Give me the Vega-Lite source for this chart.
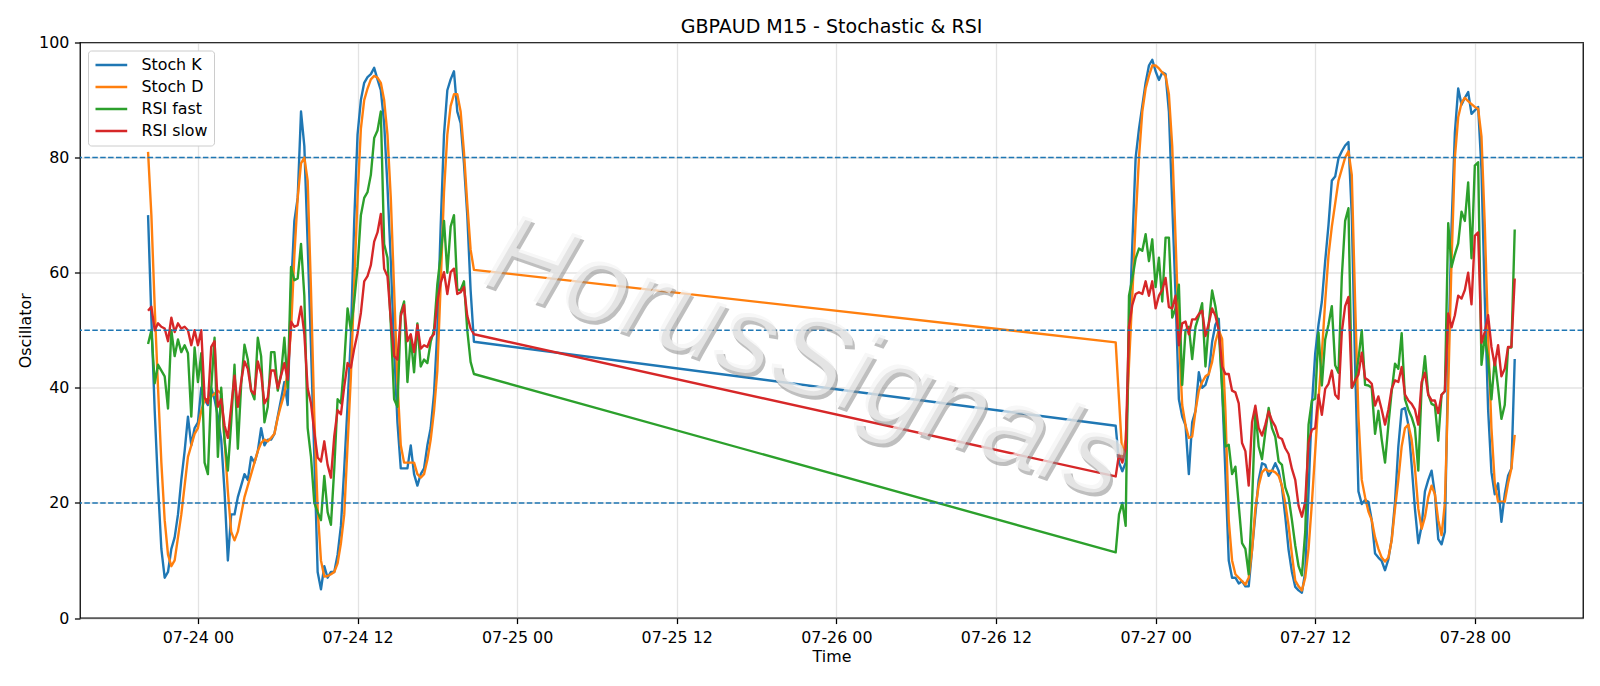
{
"$schema": "https://vega.github.io/schema/vega-lite/v6.json",
"width": 1503, "height": 575.5,
"autosize": {"type": "none"},
"padding": {"left": 80, "top": 42.5, "right": 17, "bottom": 68},
"background": "white",
"config": {
 "font": "DejaVu Sans",
 "view": {"stroke": "black", "strokeWidth": 1.27},
 "axis": {"labelFont": "DejaVu Sans", "labelFontSize": 15.87, "labelColor": "black", "titleFont": "DejaVu Sans", "titleFontSize": 15.87, "titleFontWeight": "normal", "titleColor": "black", "tickColor": "black", "tickWidth": 1.27, "tickSize": 5.56, "labelPadding": 5.56, "domain": false, "grid": true, "gridColor": "#b0b0b0", "gridOpacity": 0.35, "gridWidth": 1.27}
},
"title": {"text": "GBPAUD M15 - Stochastic & RSI", "font": "DejaVu Sans", "fontSize": 19.05, "fontWeight": "normal", "color": "black", "anchor": "middle", "frame": "group", "offset": -3},
"layer": [
{
 "data": {"values": [
{"t":"2025-07-23T20:15","k":70,"d":81,"f":47.6,"s":53.4},
{"t":"2025-07-23T20:30","k":52,"d":70,"f":50,"s":54.1},
{"t":"2025-07-23T20:45","k":36,"d":54,"f":40.8,"s":50},
{"t":"2025-07-23T21:00","k":23,"d":40,"f":44,"s":51.2},
{"t":"2025-07-23T21:15","k":12,"d":27,"f":43,"s":50.6},
{"t":"2025-07-23T21:30","k":7,"d":17,"f":42,"s":50.3},
{"t":"2025-07-23T21:45","k":8,"d":11,"f":36.4,"s":48.1},
{"t":"2025-07-23T22:00","k":12,"d":9,"f":50,"s":52.2},
{"t":"2025-07-23T22:15","k":14,"d":10,"f":45.5,"s":49.7},
{"t":"2025-07-23T22:30","k":18,"d":14,"f":48.4,"s":51.2},
{"t":"2025-07-23T22:45","k":24,"d":18,"f":46.2,"s":50.3},
{"t":"2025-07-23T23:00","k":29,"d":23,"f":47.4,"s":50.6},
{"t":"2025-07-23T23:15","k":35,"d":28,"f":46,"s":50},
{"t":"2025-07-23T23:30","k":30,"d":30,"f":35,"s":47.4},
{"t":"2025-07-23T23:45","k":33,"d":32,"f":47,"s":50},
{"t":"2025-07-24T00:00","k":34,"d":33,"f":41,"s":47.4},
{"t":"2025-07-24T00:15","k":40,"d":36,"f":46,"s":50},
{"t":"2025-07-24T00:30","k":38,"d":38,"f":27,"s":38.3},
{"t":"2025-07-24T00:45","k":37,"d":38,"f":25,"s":37.3},
{"t":"2025-07-24T01:00","k":40,"d":38.5,"f":40,"s":47.1},
{"t":"2025-07-24T01:15","k":38,"d":39,"f":48.7,"s":48.1},
{"t":"2025-07-24T01:30","k":35,"d":39.5,"f":28,"s":36.7},
{"t":"2025-07-24T01:45","k":31,"d":39,"f":40,"s":38},
{"t":"2025-07-24T02:00","k":22,"d":31,"f":31,"s":33.5},
{"t":"2025-07-24T02:15","k":10,"d":22,"f":25.6,"s":31.3},
{"t":"2025-07-24T02:30","k":18,"d":15,"f":34,"s":36.7},
{"t":"2025-07-24T02:45","k":18,"d":13.5,"f":44,"s":42.1},
{"t":"2025-07-24T03:00","k":21,"d":15,"f":29.4,"s":36.7},
{"t":"2025-07-24T03:15","k":23,"d":18,"f":40.5,"s":41.1},
{"t":"2025-07-24T03:30","k":25,"d":21,"f":47.5,"s":44.6},
{"t":"2025-07-24T03:45","k":24,"d":23,"f":44.9,"s":43.3},
{"t":"2025-07-24T04:00","k":28,"d":25,"f":39.5,"s":39.5},
{"t":"2025-07-24T04:15","k":27,"d":27,"f":38,"s":38.9},
{"t":"2025-07-24T04:30","k":29,"d":29,"f":48.7,"s":44.6},
{"t":"2025-07-24T04:45","k":33,"d":30.4,"f":45.5,"s":42.4},
{"t":"2025-07-24T05:00","k":30,"d":31,"f":34,"s":37.3},
{"t":"2025-07-24T05:15","k":31,"d":30.7,"f":36.7,"s":38.3},
{"t":"2025-07-24T05:30","k":31,"d":31.3,"f":46.2,"s":43},
{"t":"2025-07-24T05:45","k":32,"d":32,"f":46.2,"s":43},
{"t":"2025-07-24T06:00","k":35,"d":34.8,"f":39.5,"s":39.9},
{"t":"2025-07-24T06:15","k":38,"d":37,"f":42.4,"s":42.1},
{"t":"2025-07-24T06:30","k":41,"d":39,"f":48.7,"s":44.3},
{"t":"2025-07-24T06:45","k":37,"d":43,"f":40,"s":41.4},
{"t":"2025-07-24T07:00","k":57,"d":50,"f":61,"s":51.5},
{"t":"2025-07-24T07:15","k":69,"d":63,"f":58.7,"s":50.6},
{"t":"2025-07-24T07:30","k":73,"d":73,"f":59,"s":50.9},
{"t":"2025-07-24T07:45","k":88,"d":79,"f":65,"s":54.1},
{"t":"2025-07-24T08:00","k":82,"d":80,"f":56,"s":49.3},
{"t":"2025-07-24T08:15","k":65,"d":76,"f":33,"s":39.9},
{"t":"2025-07-24T08:30","k":47,"d":57,"f":28,"s":37.3},
{"t":"2025-07-24T08:45","k":28,"d":35,"f":20,"s":32.3},
{"t":"2025-07-24T09:00","k":8,"d":19,"f":18.4,"s":27.9},
{"t":"2025-07-24T09:15","k":5,"d":10,"f":17,"s":27.2},
{"t":"2025-07-24T09:30","k":9,"d":7.2,"f":24.7,"s":30.7},
{"t":"2025-07-24T09:45","k":7,"d":7.3,"f":18.4,"s":26.6},
{"t":"2025-07-24T10:00","k":8,"d":7.6,"f":16.2,"s":24.4},
{"t":"2025-07-24T10:15","k":8,"d":8,"f":26,"s":31.6},
{"t":"2025-07-24T10:30","k":11,"d":9.5,"f":38,"s":36.1},
{"t":"2025-07-24T10:45","k":16,"d":13,"f":37.3,"s":35.4},
{"t":"2025-07-24T11:00","k":26,"d":18,"f":44.3,"s":40.2},
{"t":"2025-07-24T11:15","k":37,"d":30,"f":53.8,"s":44.3},
{"t":"2025-07-24T11:30","k":49,"d":42,"f":50,"s":43.5},
{"t":"2025-07-24T11:45","k":69,"d":58,"f":55,"s":46.8},
{"t":"2025-07-24T12:00","k":84,"d":73,"f":61,"s":49.5},
{"t":"2025-07-24T12:15","k":90,"d":85,"f":70,"s":53},
{"t":"2025-07-24T12:30","k":93,"d":90,"f":73,"s":58.5},
{"t":"2025-07-24T12:45","k":94,"d":92,"f":74,"s":59.4},
{"t":"2025-07-24T13:00","k":94.5,"d":93.6,"f":77,"s":61.3},
{"t":"2025-07-24T13:15","k":95.6,"d":94.2,"f":83.4,"s":65.4},
{"t":"2025-07-24T13:30","k":93.6,"d":93.9,"f":84.7,"s":67},
{"t":"2025-07-24T13:45","k":91.7,"d":93,"f":88,"s":70.2},
{"t":"2025-07-24T14:00","k":86,"d":90,"f":65,"s":60.7},
{"t":"2025-07-24T14:15","k":75,"d":84,"f":62.6,"s":59.4},
{"t":"2025-07-24T14:30","k":62,"d":73,"f":51,"s":51.9},
{"t":"2025-07-24T14:45","k":47,"d":57,"f":38,"s":45.5},
{"t":"2025-07-24T15:00","k":34,"d":41,"f":36.7,"s":44.9},
{"t":"2025-07-24T15:15","k":26,"d":30,"f":53,"s":52.5},
{"t":"2025-07-24T15:30","k":26,"d":27,"f":55,"s":54.4},
{"t":"2025-07-24T15:45","k":26,"d":27,"f":41,"s":48.1},
{"t":"2025-07-24T16:00","k":30,"d":27,"f":48.7,"s":49.3},
{"t":"2025-07-24T16:15","k":25,"d":27,"f":42.7,"s":46.2},
{"t":"2025-07-24T16:30","k":23,"d":25,"f":51.2,"s":50.9},
{"t":"2025-07-24T16:45","k":25,"d":24.4,"f":43.7,"s":46.8},
{"t":"2025-07-24T17:00","k":26,"d":25,"f":44.9,"s":47.4},
{"t":"2025-07-24T17:15","k":30,"d":27.5,"f":44.3,"s":47.1},
{"t":"2025-07-24T17:30","k":33,"d":31,"f":48,"s":48.7},
{"t":"2025-07-24T17:45","k":39,"d":36,"f":50,"s":49.3},
{"t":"2025-07-24T18:00","k":50,"d":43,"f":58,"s":55},
{"t":"2025-07-24T18:15","k":68,"d":58,"f":63,"s":58.2},
{"t":"2025-07-24T18:30","k":84,"d":74,"f":69,"s":60.1},
{"t":"2025-07-24T18:45","k":91.7,"d":84,"f":60,"s":56.3},
{"t":"2025-07-24T19:00","k":93.6,"d":89,"f":68,"s":60.1},
{"t":"2025-07-24T19:15","k":95,"d":91,"f":70,"s":60.7},
{"t":"2025-07-24T19:30","k":88,"d":91,"f":57,"s":56.3},
{"t":"2025-07-24T19:45","k":86,"d":88,"f":57,"s":56.6},
{"t":"2025-07-24T20:00","k":79,"d":81,"f":58.5,"s":57.5},
{"t":"2025-07-24T20:15","k":70,"d":72,"f":50,"s":52.5},
{"t":"2025-07-24T20:30","k":57,"d":64,"f":44.5,"s":50.3},
{"t":"2025-07-24T20:45","k":48,"d":60.5,"f":42.4,"s":49.3},
{"t":"2025-07-26T21:00","k":33.4,"d":47.9,"f":11.4,"s":24.6},
{"t":"2025-07-26T21:15","k":27,"d":38,"f":18,"s":28.5},
{"t":"2025-07-26T21:30","k":25.5,"d":28,"f":20,"s":27},
{"t":"2025-07-26T21:45","k":27,"d":31,"f":16,"s":29.5},
{"t":"2025-07-26T22:00","k":48,"d":44,"f":56,"s":50.6},
{"t":"2025-07-26T22:15","k":65,"d":56,"f":59,"s":54.4},
{"t":"2025-07-26T22:30","k":80,"d":69,"f":62.5,"s":56.3},
{"t":"2025-07-26T22:45","k":85,"d":80,"f":64.2,"s":56.6},
{"t":"2025-07-26T23:00","k":89,"d":88,"f":63.8,"s":56.3},
{"t":"2025-07-26T23:15","k":93,"d":92,"f":66.7,"s":58.5},
{"t":"2025-07-26T23:30","k":96,"d":94.2,"f":62,"s":56},
{"t":"2025-07-26T23:45","k":97,"d":96,"f":65.8,"s":58.5},
{"t":"2025-07-27T00:00","k":95,"d":96,"f":57.5,"s":53.8},
{"t":"2025-07-27T00:15","k":93.5,"d":95.5,"f":62.6,"s":56},
{"t":"2025-07-27T00:30","k":94.8,"d":94.8,"f":55,"s":57},
{"t":"2025-07-27T00:45","k":94.5,"d":94.2,"f":66.1,"s":59.1},
{"t":"2025-07-27T01:00","k":88,"d":91,"f":66.1,"s":54},
{"t":"2025-07-27T01:15","k":72,"d":82,"f":52.2,"s":53.8},
{"t":"2025-07-27T01:30","k":56,"d":66,"f":53.8,"s":56},
{"t":"2025-07-27T01:45","k":38,"d":49,"f":57.9,"s":47.4},
{"t":"2025-07-27T02:00","k":35,"d":37,"f":40.5,"s":51.2},
{"t":"2025-07-27T02:15","k":33.5,"d":33.5,"f":50,"s":51.5},
{"t":"2025-07-27T02:30","k":25,"d":31.3,"f":50.6,"s":49.3},
{"t":"2025-07-27T02:45","k":34,"d":31.5,"f":45,"s":51.9},
{"t":"2025-07-27T03:00","k":36,"d":36,"f":50.6,"s":51.9},
{"t":"2025-07-27T03:15","k":42.7,"d":39.5,"f":52.5,"s":52.8},
{"t":"2025-07-27T03:30","k":40,"d":41,"f":54.7,"s":53.4},
{"t":"2025-07-27T03:45","k":40.5,"d":42,"f":43.7,"s":49},
{"t":"2025-07-27T04:00","k":42.4,"d":42.4,"f":51.2,"s":51.2},
{"t":"2025-07-27T04:15","k":48,"d":44.5,"f":56.9,"s":53.8},
{"t":"2025-07-27T04:30","k":51,"d":48,"f":54.1,"s":52.5},
{"t":"2025-07-27T04:45","k":52,"d":50,"f":50,"s":50},
{"t":"2025-07-27T05:00","k":40,"d":48.5,"f":39.9,"s":43.7},
{"t":"2025-07-27T05:15","k":25,"d":36,"f":29.8,"s":42.4},
{"t":"2025-07-27T05:30","k":10,"d":17,"f":30.1,"s":42.4},
{"t":"2025-07-27T05:45","k":7,"d":10,"f":25,"s":39.5},
{"t":"2025-07-27T06:00","k":7,"d":7.6,"f":26.3,"s":39.2},
{"t":"2025-07-27T06:15","k":6,"d":7,"f":19.6,"s":37.3},
{"t":"2025-07-27T06:30","k":6.4,"d":6.4,"f":13,"s":30.4},
{"t":"2025-07-27T06:45","k":5.5,"d":5.8,"f":12,"s":29},
{"t":"2025-07-27T07:00","k":5.5,"d":7,"f":7.6,"s":23},
{"t":"2025-07-27T07:15","k":11.8,"d":11.8,"f":20,"s":34},
{"t":"2025-07-27T07:30","k":18,"d":19,"f":36.2,"s":36.9},
{"t":"2025-07-27T07:45","k":24,"d":23,"f":29.8,"s":33},
{"t":"2025-07-27T08:00","k":26.9,"d":25.3,"f":27.6,"s":31.7},
{"t":"2025-07-27T08:15","k":26.6,"d":25.9,"f":32.3,"s":33.6},
{"t":"2025-07-27T08:30","k":24.7,"d":25.5,"f":36.5,"s":35.9},
{"t":"2025-07-27T08:45","k":25.6,"d":25.6,"f":33,"s":34.3},
{"t":"2025-07-27T09:00","k":26.9,"d":25.3,"f":31.5,"s":33.3},
{"t":"2025-07-27T09:15","k":25.6,"d":24.7,"f":27.2,"s":31.4},
{"t":"2025-07-27T09:30","k":22.7,"d":23,"f":26.6,"s":31.1},
{"t":"2025-07-27T09:45","k":17.6,"d":20,"f":22.7,"s":29.5},
{"t":"2025-07-27T10:00","k":11.8,"d":16,"f":21,"s":28.5},
{"t":"2025-07-27T10:15","k":8,"d":11,"f":17,"s":25.9},
{"t":"2025-07-27T10:30","k":5.4,"d":6.5,"f":12.6,"s":24},
{"t":"2025-07-27T10:45","k":4.8,"d":5.5,"f":9,"s":19.5},
{"t":"2025-07-27T11:00","k":4.4,"d":4.8,"f":7.4,"s":17.6},
{"t":"2025-07-27T11:15","k":8,"d":7,"f":15,"s":20.2},
{"t":"2025-07-27T11:30","k":22,"d":12,"f":33.6,"s":30.5},
{"t":"2025-07-27T11:45","k":37,"d":20,"f":37.8,"s":32.7},
{"t":"2025-07-27T12:00","k":46,"d":29,"f":38.1,"s":33},
{"t":"2025-07-27T12:15","k":51,"d":38,"f":49.6,"s":38.8},
{"t":"2025-07-27T12:30","k":55,"d":46,"f":40.4,"s":35.3},
{"t":"2025-07-27T12:45","k":62,"d":55,"f":48.4,"s":39.8},
{"t":"2025-07-27T13:00","k":68.3,"d":63,"f":51,"s":40.7},
{"t":"2025-07-27T13:15","k":76,"d":68,"f":54.2,"s":43},
{"t":"2025-07-27T13:30","k":76.7,"d":72,"f":43.9,"s":38.8},
{"t":"2025-07-27T13:45","k":79.9,"d":76,"f":42.6,"s":38.1},
{"t":"2025-07-27T14:00","k":81.1,"d":78,"f":59.3,"s":49.7},
{"t":"2025-07-27T14:15","k":82.1,"d":80,"f":69,"s":54.2},
{"t":"2025-07-27T14:30","k":82.7,"d":81.1,"f":71.2,"s":55.8},
{"t":"2025-07-27T14:45","k":70,"d":77,"f":40,"s":40},
{"t":"2025-07-27T15:00","k":44,"d":55,"f":41,"s":41.3},
{"t":"2025-07-27T15:15","k":22,"d":35,"f":45,"s":42.3},
{"t":"2025-07-27T15:30","k":19.8,"d":24,"f":50,"s":46.1},
{"t":"2025-07-27T15:45","k":20.5,"d":21,"f":40.5,"s":41.7},
{"t":"2025-07-27T16:00","k":20.2,"d":18.5,"f":40.4,"s":41.3},
{"t":"2025-07-27T16:15","k":17,"d":17,"f":40,"s":40.7},
{"t":"2025-07-27T16:30","k":11.2,"d":14,"f":32,"s":36.9},
{"t":"2025-07-27T16:45","k":10.5,"d":12,"f":36,"s":38.5},
{"t":"2025-07-27T17:00","k":9.9,"d":10.5,"f":31,"s":36.2},
{"t":"2025-07-27T17:15","k":8.3,"d":9.8,"f":27,"s":33.6},
{"t":"2025-07-27T17:30","k":10.2,"d":10.5,"f":33.5,"s":36.2},
{"t":"2025-07-27T17:45","k":13.7,"d":13.5,"f":39.4,"s":39.8},
{"t":"2025-07-27T18:00","k":20.2,"d":19,"f":44.2,"s":41.3},
{"t":"2025-07-27T18:15","k":29.8,"d":24,"f":43.3,"s":41},
{"t":"2025-07-27T18:30","k":36.2,"d":29.8,"f":49.5,"s":43.6},
{"t":"2025-07-27T18:45","k":36.5,"d":33,"f":38,"s":38.8},
{"t":"2025-07-27T19:00","k":33.6,"d":33.6,"f":36.2,"s":37.8},
{"t":"2025-07-27T19:15","k":26.6,"d":31,"f":34.9,"s":37.2},
{"t":"2025-07-27T19:30","k":18.9,"d":26,"f":33,"s":36.2},
{"t":"2025-07-27T19:45","k":13,"d":19,"f":25.6,"s":33.6},
{"t":"2025-07-27T20:00","k":16,"d":15.5,"f":40,"s":41},
{"t":"2025-07-27T20:15","k":22,"d":17.5,"f":45.5,"s":42.6},
{"t":"2025-07-27T20:30","k":24,"d":21,"f":38.8,"s":38.8},
{"t":"2025-07-27T20:45","k":25.6,"d":23,"f":37.2,"s":37.8},
{"t":"2025-07-27T21:00","k":21.5,"d":21.5,"f":36.9,"s":37.8},
{"t":"2025-07-27T21:15","k":13.7,"d":17,"f":30.8,"s":35.6},
{"t":"2025-07-27T21:30","k":12.8,"d":14.4,"f":38.8,"s":38.8},
{"t":"2025-07-27T21:45","k":15,"d":20,"f":39.4,"s":39.4},
{"t":"2025-07-27T22:00","k":45,"d":40,"f":68.6,"s":52.9},
{"t":"2025-07-27T22:15","k":68,"d":62,"f":61,"s":50.5},
{"t":"2025-07-27T22:30","k":84.3,"d":80,"f":63.2,"s":52.6},
{"t":"2025-07-27T22:45","k":92,"d":87,"f":65.1,"s":56},
{"t":"2025-07-27T23:00","k":89.2,"d":89.5,"f":70.6,"s":55.5},
{"t":"2025-07-27T23:15","k":90.4,"d":90.4,"f":69,"s":57},
{"t":"2025-07-27T23:30","k":91.4,"d":89.8,"f":75.7,"s":60},
{"t":"2025-07-27T23:45","k":87.6,"d":89.3,"f":62.5,"s":54.5},
{"t":"2025-07-28T00:00","k":88.2,"d":88.8,"f":78.6,"s":66.4},
{"t":"2025-07-28T00:15","k":88.8,"d":88.5,"f":79.2,"s":67},
{"t":"2025-07-28T00:30","k":77.9,"d":83.7,"f":44,"s":47.8},
{"t":"2025-07-28T00:45","k":55.5,"d":68.3,"f":49,"s":49.7},
{"t":"2025-07-28T01:00","k":36.2,"d":49,"f":45,"s":52.6},
{"t":"2025-07-28T01:15","k":25.3,"d":33,"f":38,"s":47.1},
{"t":"2025-07-28T01:30","k":21.5,"d":23.4,"f":45,"s":43.9},
{"t":"2025-07-28T01:45","k":23.4,"d":20.2,"f":40,"s":47.4},
{"t":"2025-07-28T02:00","k":16.7,"d":20.2,"f":34.6,"s":42},
{"t":"2025-07-28T02:15","k":21.5,"d":20.2,"f":37,"s":43.3},
{"t":"2025-07-28T02:30","k":24.7,"d":23.4,"f":47,"s":47.1},
{"t":"2025-07-28T02:45","k":26,"d":26,"f":47,"s":47.1},
{"t":"2025-07-28T03:00","k":45,"d":31.8,"f":67.5,"s":59}
 ]},
 "transform": [{"fold": ["k", "d", "f", "s"], "as": ["series", "value"]}],
 "mark": {"type": "line", "strokeWidth": 2.38, "strokeJoin": "round"},
 "encoding": {
  "x": {"field": "t", "type": "temporal",
        "scale": {"domain": [{"year": 2025, "month": 7, "date": 23, "hours": 15, "minutes": 8}, {"year": 2025, "month": 7, "date": 28, "hours": 8, "minutes": 8}], "nice": false},
        "axis": {"title": "Time", "format": "%m-%d %H", "titlePadding": 4,
                 "values": [{"year": 2025, "month": 7, "date": 24, "hours": 0}, {"year": 2025, "month": 7, "date": 24, "hours": 12}, {"year": 2025, "month": 7, "date": 25, "hours": 0}, {"year": 2025, "month": 7, "date": 25, "hours": 12}, {"year": 2025, "month": 7, "date": 26, "hours": 0}, {"year": 2025, "month": 7, "date": 26, "hours": 12}, {"year": 2025, "month": 7, "date": 27, "hours": 0}, {"year": 2025, "month": 7, "date": 27, "hours": 12}, {"year": 2025, "month": 7, "date": 28, "hours": 0}]}},
  "y": {"field": "value", "type": "quantitative",
        "scale": {"domain": [0, 100], "nice": false},
        "axis": {"title": "Oscillator", "values": [0, 20, 40, 60, 80, 100], "titlePadding": 5}},
  "color": {"field": "series", "type": "nominal",
        "scale": {"domain": ["k", "d", "f", "s"], "range": ["#1f77b4", "#ff7f0e", "#2ca02c", "#d62728"]},
        "legend": {"title": null, "orient": "top-left", "offset": 7.9, "labelExpr": "datum.label == 'k' ? 'Stoch K' : datum.label == 'd' ? 'Stoch D' : datum.label == 'f' ? 'RSI fast' : 'RSI slow'",
                   "symbolType": "M-1,0H3.53", "symbolSize": 196, "symbolStrokeWidth": 2.38, "labelFont": "DejaVu Sans", "labelFontSize": 15.87, "labelColor": "black", "labelOffset": 30.4, "padding": 6, "rowPadding": 5, "strokeColor": "#cccccc", "fillColor": "#ffffff", "cornerRadius": 3.2}}
 }
},
{
 "data": {"values": [{"value": 80}, {"value": 50}, {"value": 20}]},
 "mark": {"type": "rule", "color": "#1f77b4", "strokeDash": [5.5, 2.4], "strokeWidth": 1.5},
 "encoding": {"y": {"field": "value", "type": "quantitative"}}
},
{
 "data": {"values": [{"t": "2025-07-25T21:45", "value": 45, "label": "HorusSignals"}]},
 "encoding": {
  "x": {"field": "t", "type": "temporal"},
  "y": {"field": "value", "type": "quantitative"},
  "text": {"field": "label"}
 },
 "layer": [
  {"mark": {"type": "text", "font": "Liberation Sans", "fontSize": 112, "fontStyle": "italic", "angle": 19, "align": "center", "baseline": "middle", "fill": "#8c8c8c", "opacity": 0.55, "dx": 3.5, "dy": 3}},
  {"mark": {"type": "text", "font": "Liberation Sans", "fontSize": 112, "fontStyle": "italic", "angle": 19, "align": "center", "baseline": "middle", "fill": "#f4f4f4", "opacity": 0.7}}
 ]
}
]
}
